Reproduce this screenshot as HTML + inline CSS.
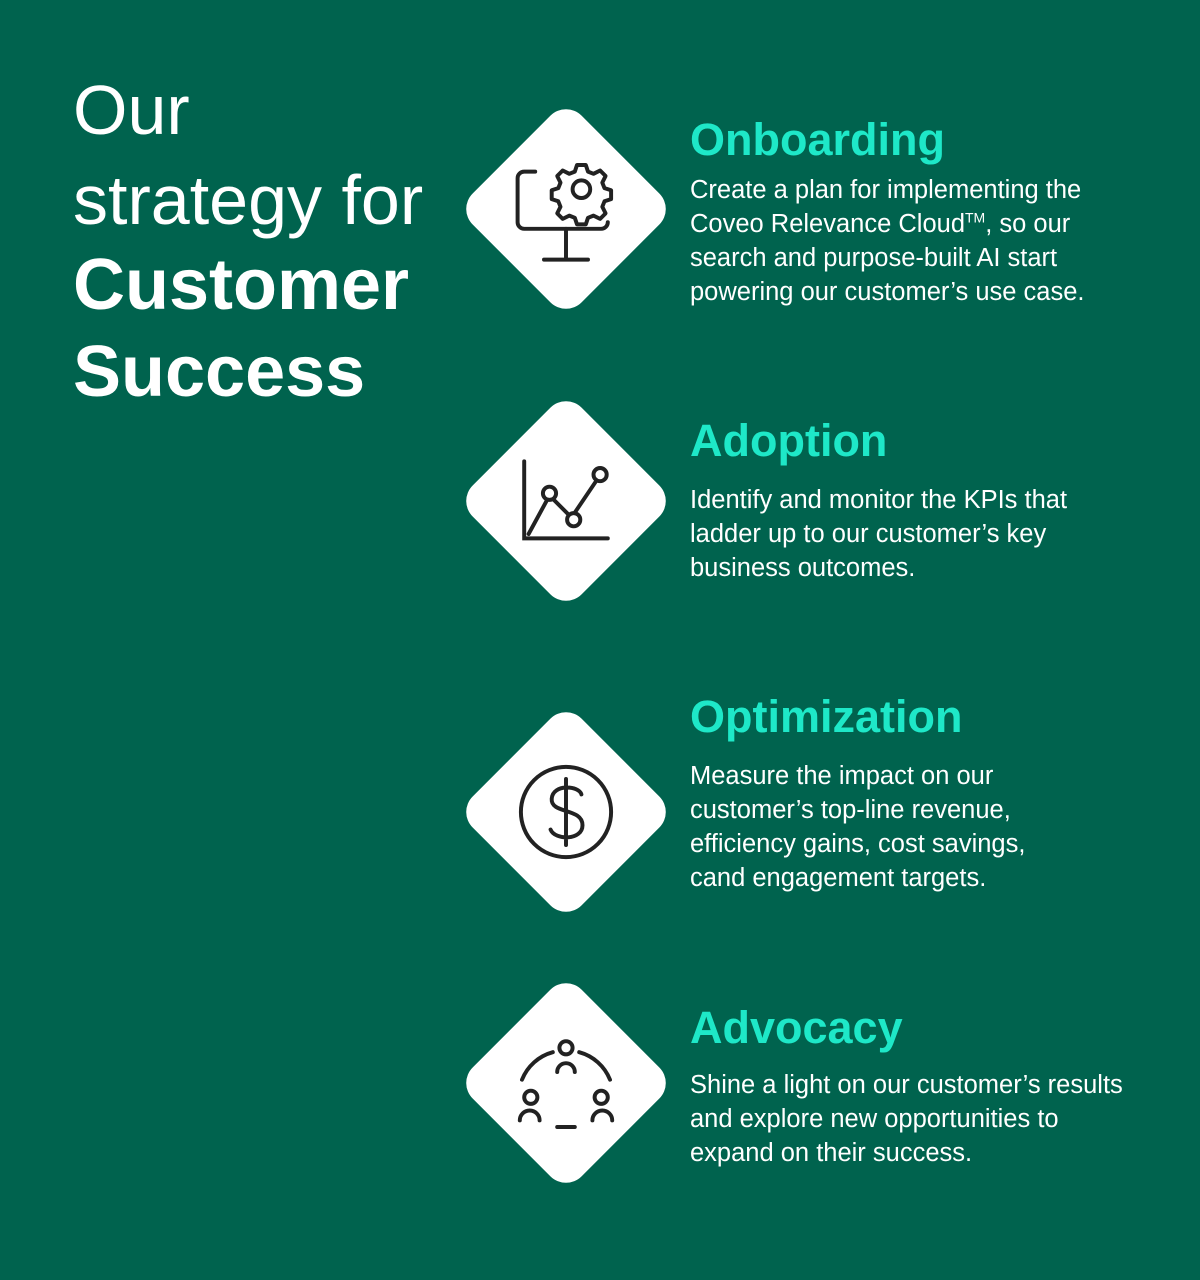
<!DOCTYPE html>
<html><head><meta charset="utf-8"><style>
html,body{margin:0;padding:0}
body{width:1200px;height:1280px;background:#00634e;position:relative;overflow:hidden;font-family:"Liberation Sans",sans-serif;color:#fff}
.t{position:absolute;left:73px;white-space:nowrap;line-height:88px}
.l{font-size:70px;font-weight:normal}
.b{font-size:72px;font-weight:bold}
.d{position:absolute;left:489px;width:154px;height:154px;background:#fff;border-radius:22px;transform:rotate(45deg)}
.ic{position:absolute;left:500px;width:132px;height:132px}
.h{position:absolute;left:690px;font-size:45px;font-weight:bold;color:#1ee8c8;line-height:50px;white-space:nowrap}
.p{position:absolute;left:690px;font-size:25.5px;line-height:34px;white-space:nowrap}
</style></head><body>
<div class="t l" style="top:66px">Our</div>
<div class="t l" style="top:156px">strategy for</div>
<div class="t b" style="top:241px">Customer</div>
<div class="t b" style="top:328px">Success</div>

<div class="d" style="top:132px"></div>
<div class="d" style="top:424px"></div>
<div class="d" style="top:735px"></div>
<div class="d" style="top:1006px"></div>

<svg class="ic" style="top:143px" viewBox="0 0 120 120" fill="none" stroke="#222" stroke-width="3.6" stroke-linecap="round">
<path d="M32 26 H22 a6 6 0 0 0 -6 6 V72 a6 6 0 0 0 6 6 H92 a6 6 0 0 0 6 -6"/>
<path d="M60 78 V106 M40 106 H80"/>
<circle cx="74" cy="42" r="8"/>
<path d="M70 20 h8 l2 6 5 2 6-3 5 5 -3 6 2 5 6 2 v8 l-6 2 -2 5 3 6 -5 5 -6-3 -5 2 -2 6 h-8 l-2-6 -5-2 -6 3 -5-5 3-6 -2-5 -6-2 v-8 l6-2 2-5 -3-6 5-5 6 3 5-2z" stroke-linejoin="round"/>
</svg>

<svg class="ic" style="top:435px" viewBox="0 0 120 120" fill="none" stroke="#222" stroke-width="3.6" stroke-linecap="round">
<path d="M22 24 V94 H98"/>
<path d="M26 90 L45 55 L65 75 L90 38"/>
<circle cx="45" cy="53" r="6" fill="#fff"/>
<circle cx="67" cy="77" r="6" fill="#fff"/>
<circle cx="91" cy="36" r="6" fill="#fff"/>
</svg>

<svg class="ic" style="top:746px" viewBox="0 0 120 120" fill="none" stroke="#222" stroke-width="3.6" stroke-linecap="round">
<circle cx="60" cy="60" r="41"/>
<path d="M60 30 V90 M74 44 C72 36 48 34 47 48 C46 62 75 56 75 72 C75 86 50 86 46 76"/>
</svg>

<svg class="ic" style="top:1017px" viewBox="0 0 120 120" fill="none" stroke="#222" stroke-width="3.6" stroke-linecap="round">
<circle cx="60" cy="28" r="6"/>
<path d="M52 50 a8 8 0 0 1 16 0"/>
<circle cx="28" cy="73" r="6"/>
<path d="M18 94 a9 9 0 0 1 18 0"/>
<circle cx="92" cy="73" r="6"/>
<path d="M84 94 a9 9 0 0 1 18 0"/>
<path d="M52 100 H68"/>
<path d="M20 57 A42 42 0 0 1 48 32"/>
<path d="M72 32 A42 42 0 0 1 100 57"/>
</svg>

<div class="h" style="top:115px">Onboarding</div>
<div class="p" style="top:173px">Create a plan for implementing the<br>Coveo Relevance Cloud<sup style="font-size:14px;line-height:0">TM</sup>, so our<br>search and purpose-built AI start<br>powering our customer’s use case.</div>

<div class="h" style="top:416px">Adoption</div>
<div class="p" style="top:483px">Identify and monitor the KPIs that<br>ladder up to our customer’s key<br>business outcomes.</div>

<div class="h" style="top:692px">Optimization</div>
<div class="p" style="top:759px">Measure the impact on our<br>customer’s top-line revenue,<br>efficiency gains, cost savings,<br>cand engagement targets.</div>

<div class="h" style="top:1003px">Advocacy</div>
<div class="p" style="top:1068px">Shine a light on our customer’s results<br>and explore new opportunities to<br>expand on their success.</div>
</body></html>
